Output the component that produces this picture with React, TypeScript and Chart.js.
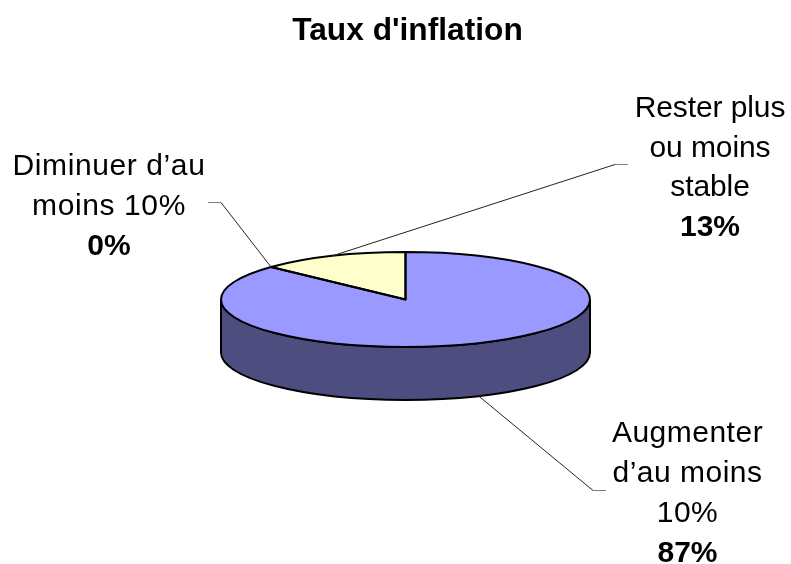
import React, { useEffect, useRef } from "react";
import { Chart, registerables } from "chart.js";

Chart.register(...registerables);

const chartTitle = "Taux d'inflation";
const categories = ["Augmenter d’au moins 10%", "Diminuer d’au moins 10%", "Rester plus ou moins stable"];
const categoryLines = [
  ["Augmenter", "d’au moins", "10%"],
  ["Diminuer d’au", "moins 10%"],
  ["Rester plus", "ou moins", "stable"],
];
const values = [87, 0, 13];
const sliceColors = ["#9999FF", "#9999FF", "#FFFFCC"];
const sideColor = "#4D4D80";

const FONT = '"Liberation Sans", Arial, sans-serif';
const LABEL_SIZE = 30;
const PIE = { cx: 405.5, cy: 299.5, rx: 184.5, ry: 47.5, depth: 53 };
// Label block placement: text centre x, first baseline y, line steps, tracking.
const LABEL_POS = [
  { x: 687.5, y: 442, leading: 40, tracking: 0.5 },
  { x: 109, y: 175, leading: 40, tracking: 0.6 },
  { x: 710, y: 117, leading: 39.5, tracking: -0.1 },
];
// Leader elbows: elbow point and end of the short horizontal stub.
const LEADERS = [
  { ex: 593, ey: 490.5, sx: 606, side: true },
  { ex: 221, ey: 202.5, sx: 208, side: false },
  { ex: 615, ey: 164.5, sx: 628, side: false },
];

const pie3dPlugin = {
  id: "pie3d",
  beforeDatasetsDraw(chart: any) {
    const ctx = chart.ctx;
    const arc = chart.getDatasetMeta(0).data[0];
    const { cx, cy, rx, ry, depth } = PIE;
    ctx.save();
    ctx.beginPath();
    ctx.ellipse(cx, cy, rx, ry, 0, 0, Math.PI);
    ctx.lineTo(cx - rx, cy + depth);
    ctx.ellipse(cx, cy + depth, rx, ry, 0, Math.PI, 0, true);
    ctx.closePath();
    ctx.fillStyle = sideColor;
    ctx.fill();
    ctx.lineWidth = 2;
    ctx.strokeStyle = "#000";
    ctx.stroke();
    ctx.restore();

    ctx.save();
    ctx.translate(cx, cy);
    ctx.scale(rx / arc.outerRadius, ry / arc.outerRadius);
    ctx.translate(-arc.x, -arc.y);
  },
  afterDatasetsDraw(chart: any) {
    const ctx = chart.ctx;
    ctx.restore();
    const { cx, cy, rx, ry, depth } = PIE;
    const arcs = chart.getDatasetMeta(0).data;
    ctx.save();
    ctx.lineWidth = 2;
    ctx.strokeStyle = "#000";
    ctx.lineJoin = "round";
    arcs.forEach((a: any) => {
      if (a.endAngle - a.startAngle <= 0) return;
      ctx.beginPath();
      ctx.moveTo(cx, cy);
      ctx.ellipse(cx, cy, rx, ry, 0, a.startAngle, a.endAngle);
      ctx.closePath();
      ctx.stroke();
    });
    ctx.restore();

    // Leader lines start at each slice's mid-angle on the pie rim.
    arcs.forEach((a: any, i: number) => {
      const mid = (a.startAngle + a.endAngle) / 2;
      const px = cx + rx * Math.cos(mid);
      const py = cy + ry * Math.sin(mid) + (LEADERS[i].side ? depth : 0);
      const l = LEADERS[i];
      ctx.save();
      ctx.lineWidth = 1;
      ctx.strokeStyle = "#222";
      ctx.beginPath();
      ctx.moveTo(px, py);
      ctx.lineTo(l.ex, l.ey);
      ctx.stroke();
      ctx.strokeStyle = "#808080";
      ctx.beginPath();
      ctx.moveTo(l.ex, l.ey);
      ctx.lineTo(l.sx, l.ey);
      ctx.stroke();
      ctx.restore();
    });
  },
  afterDraw(chart: any) {
    const ctx = chart.ctx;
    ctx.save();
    ctx.fillStyle = "#000";
    ctx.textAlign = "center";
    ctx.textBaseline = "alphabetic";
    categoryLines.forEach((lines, i) => {
      const p = LABEL_POS[i];
      ctx.letterSpacing = `${p.tracking}px`;
      ctx.font = `${LABEL_SIZE}px ${FONT}`;
      lines.forEach((t, j) => ctx.fillText(t, p.x, p.y + j * p.leading));
      ctx.letterSpacing = "0px";
      ctx.font = `bold ${LABEL_SIZE}px ${FONT}`;
      ctx.fillText(`${values[i]}%`, p.x, p.y + lines.length * p.leading);
    });
    ctx.restore();
  },
};

export default function App() {
  const ref = useRef<HTMLCanvasElement>(null);
  useEffect(() => {
    const chart = new Chart(ref.current as HTMLCanvasElement, {
      type: "pie",
      data: {
        labels: categories,
        datasets: [{ data: values, backgroundColor: sliceColors, borderWidth: 0 }],
      },
      options: {
        animation: false,
        responsive: false,
        layout: { padding: { left: 223, right: 199, top: 0, bottom: 0 } },
        plugins: {
          legend: { display: false },
          tooltip: { enabled: false },
          title: {
            display: true,
            text: chartTitle,
            color: "#000",
            font: { family: FONT, size: 31.7, weight: "bold" },
            padding: { top: 12, bottom: 10 },
          },
        },
      },
      plugins: [pie3dPlugin],
    } as any);
    return () => chart.destroy();
  }, []);
  return (
    <canvas
      ref={ref}
      width={791}
      height={564}
      style={{ position: "absolute", left: 0, top: 0, display: "block", width: 791, height: 564 }}
    />
  );
}
